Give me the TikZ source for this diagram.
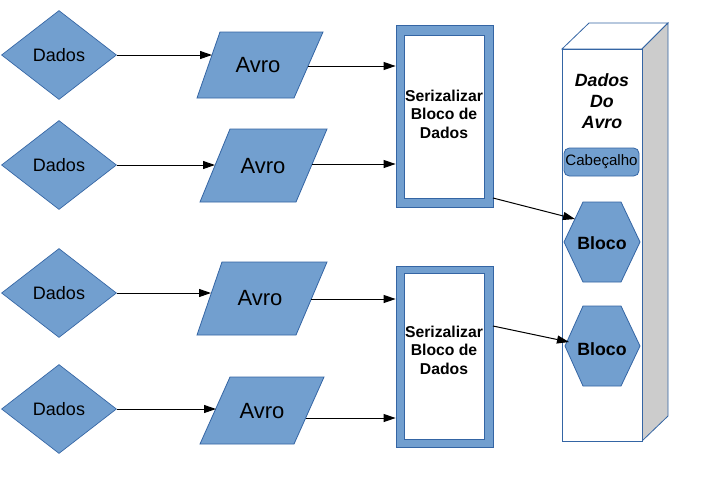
\documentclass[tikz,border=0pt]{standalone}
\usepackage{fontspec}
\setmainfont{Liberation Sans}
\usetikzlibrary{shapes.geometric,arrows.meta}
\definecolor{fillblue}{HTML}{729FCF}
\definecolor{lineblue}{HTML}{3465A4}
\definecolor{sidegray}{HTML}{CCCCCC}
\begin{document}
\begin{tikzpicture}[x=0.75pt,y=-0.75pt,line width=0.75pt,
  diam/.style={diamond,aspect=1.3,inner sep=0pt,minimum width=86.25pt,minimum height=66.75pt,
    fill=fillblue,draw=lineblue,line width=0.5pt,font=\fontsize{13.5}{16}\selectfont},
  para/.style={fill=fillblue,draw=lineblue,line width=0.6pt},
  avro/.style={font=\fontsize{16.5}{19}\selectfont,inner sep=0pt},
  arr/.style={-{Triangle[length=9pt,width=6pt]},black,line width=0.75pt},
  ln/.style={black,line width=0.75pt},
  serbox/.style={rectangle,fill=fillblue,draw=lineblue,line width=0.6pt,minimum width=72.75pt,inner sep=0pt},
  inbox/.style={fill=white,draw=lineblue,line width=0.5pt},
  sertext/.style={align=center,inner sep=0pt,font=\bfseries\fontsize{11.8}{13.9}\selectfont},
  hexa/.style={fill=fillblue,draw=lineblue,line width=0.6pt},
  bloco/.style={inner sep=0pt,font=\bfseries\fontsize{13.3}{16}\selectfont},
  face/.style={draw=lineblue,line width=0.6pt}]
\fill[white] (0,0) rectangle (702,483);
\useasboundingbox (0,0) rectangle (702,483);

% diamonds
\node[diam] (d1) at (59,55) {Dados};
\node[diam] (d2) at (59,165) {Dados};
\node[diam] (d3) at (59,293) {Dados};
\node[diam] (d4) at (59,409) {Dados};

% parallelograms
\path[para] (220,32) -- (323,32) -- (294,98) -- (197,98) -- cycle;
\path[para] (230,129) -- (327,129) -- (296,202) -- (200,202) -- cycle;
\path[para] (222,262) -- (327,262) -- (296,335) -- (197,335) -- cycle;
\path[para] (230,377) -- (324,377) -- (294,444) -- (200,444) -- cycle;
\node[avro] (p1) at (258,65) {Avro};
\node[avro] (p2) at (263,166) {Avro};
\node[avro] (p3) at (260,298) {Avro};
\node[avro] (p4) at (262,411) {Avro};
\coordinate (p1i) at (212,55);
\coordinate (p2i) at (215,165);
\coordinate (p3i) at (211,293);
\coordinate (p4i) at (216,409);
\coordinate (p1o) at (308,66);
\coordinate (p2o) at (312,164);
\coordinate (p3o) at (311,299);
\coordinate (p4o) at (306,418);

% serialize boxes
\node[serbox,minimum height=136.5pt] (s1) at (444.5,116) {};
\path[inbox] (404,35) rectangle (484,198);
\node[sertext] (s1t) at (444,114) {Serizalizar\\Bloco de\\Dados};
\node[serbox,minimum height=135.75pt] (s2) at (444.5,356.5) {};
\path[inbox] (404,273) rectangle (484,439);
\node[sertext] (s2t) at (444,350) {Serizalizar\\Bloco de\\Dados};

% 3D container
\path[face,fill=white] (562,49) -- (589,23) -- (668,23) -- (642,49) -- cycle;
\path[face,fill=sidegray] (642,49) -- (668,23) -- (668,416) -- (642,441) -- cycle;
\path[face,fill=white] (562,49) rectangle (642,441);
\node[align=center,inner sep=0pt,font=\bfseries\itshape\fontsize{13.3}{15.8}\selectfont] (title) at (602,101) {Dados\\Do\\Avro};
\node[rectangle,rounded corners=4pt,fill=fillblue,draw=lineblue,line width=0.6pt,
  minimum width=56.25pt,minimum height=21pt,inner sep=0pt,
  font=\fontsize{11.3}{13}\selectfont] (cab) at (601.5,162) {Cabeçalho};

% hexagons
\path[hexa] (583,202) -- (621,202) -- (640,242) -- (621,282) -- (583,282) -- (564,242) -- cycle;
\path[hexa] (583,306) -- (621,306) -- (640,346) -- (621,386) -- (583,386) -- (565,346) -- cycle;
\node[bloco] (h1) at (602,243) {Bloco};
\node[bloco] (h2) at (602,349) {Bloco};
\coordinate (h1i) at (575,219);
\coordinate (h2i) at (569,342);
\coordinate (s1o) at (493,198);
\coordinate (s2o) at (493,326);

% connectors
\draw[arr] (d1.east) -- (p1i);
\draw[arr] (d2.east) -- (p2i);
\draw[arr] (d3.east) -- (p3i);
\draw[arr] (d4.east) -- (p4i);
\draw[arr] (p1o) -- (p1o -| s1.west);
\draw[arr] (p2o) -- (p2o -| s1.west);
\draw[arr] (p3o) -- (p3o -| s2.west);
\draw[arr] (p4o) -- (p4o -| s2.west);
\draw[arr] (s1o) -- (h1i);
\draw[arr] (s2o) -- (h2i);
\end{tikzpicture}
\end{document}
